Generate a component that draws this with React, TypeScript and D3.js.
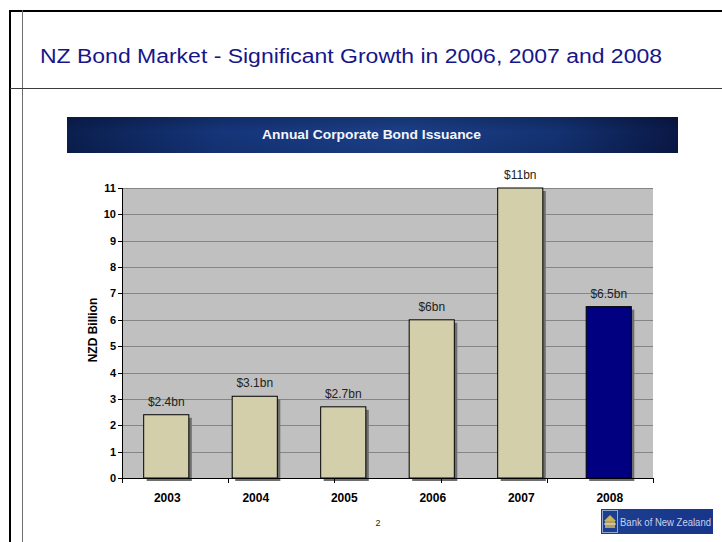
import React from "react";
import * as d3 from "d3";

// Annual corporate bond issuance, NZD billion
const years = ["2003", "2004", "2005", "2006", "2007", "2008"];
const issuance = [2.4, 3.1, 2.7, 6, 11, 6.5];
const valueLabels = ["$2.4bn", "$3.1bn", "$2.7bn", "$6bn", "$11bn", "$6.5bn"];
const yTicks = [0, 1, 2, 3, 4, 5, 6, 7, 8, 9, 10, 11];
const highlightYear = "2008";

const W = 722;
const H = 542;
const plot = { left: 122, right: 653, top: 188, bottom: 478 };
const FONT = "'Liberation Sans', Arial, Helvetica, sans-serif";

export default function App() {
  const y = d3.scaleLinear().domain([0, 11]).range([plot.bottom, plot.top]);
  const x = d3
    .scaleBand<string>()
    .domain(years)
    .range([plot.left, plot.right])
    .paddingInner(0.49)
    .paddingOuter(0.245);
  // category tick marks are spread evenly along the axis
  const xTickPos = d3.scaleLinear().domain([0, years.length - 1]).range([plot.left, plot.right]);

  return (
    <svg
      width={W}
      height={H}
      viewBox={`0 0 ${W} ${H}`}
      style={{ position: "absolute", left: 0, top: 0, background: "#fff" }}
    >
      <defs>
        <linearGradient id="bannerGrad" x1="0" x2="1" y1="0" y2="0">
          <stop offset="0%" stopColor="#0b1f4f" />
          <stop offset="25%" stopColor="#15357a" />
          <stop offset="55%" stopColor="#1b3f88" />
          <stop offset="80%" stopColor="#133272" />
          <stop offset="100%" stopColor="#0a1846" />
        </linearGradient>
        <linearGradient id="bannerShade" x1="0" x2="0" y1="0" y2="1">
          <stop offset="0%" stopColor="#000" stopOpacity={0.18} />
          <stop offset="40%" stopColor="#000" stopOpacity={0} />
          <stop offset="100%" stopColor="#000" stopOpacity={0.08} />
        </linearGradient>
        <linearGradient id="logoGrad" x1="0" x2="1" y1="0" y2="0">
          <stop offset="0%" stopColor="#1d3f8f" />
          <stop offset="100%" stopColor="#17358a" />
        </linearGradient>
      </defs>

      {/* slide frame */}
      <line x1={10} x2={10} y1={10} y2={H} stroke="#000" strokeWidth={2} />
      <line x1={9} x2={W} y1={11} y2={11} stroke="#000" strokeWidth={2} />
      <line x1={22.5} x2={22.5} y1={10} y2={H} stroke="#6e6e6e" strokeWidth={1} />
      <line x1={10} x2={W} y1={88.5} y2={88.5} stroke="#3a3a3a" strokeWidth={1} />

      {/* slide title */}
      <text
        x={40}
        y={63}
        fontFamily={FONT}
        fontSize={20}
        fill="#16168a"
        textLength={622}
        lengthAdjust="spacingAndGlyphs"
      >
        NZ Bond Market - Significant Growth in 2006, 2007 and 2008
      </text>

      {/* chart banner */}
      <rect x={67} y={117} width={611} height={36} fill="url(#bannerGrad)" />
      <rect x={67} y={117} width={611} height={36} fill="url(#bannerShade)" />
      <text
        x={262}
        y={139}
        fontFamily={FONT}
        fontSize={12.5}
        fontWeight="bold"
        fill="#f4f6fb"
        textLength={219}
        lengthAdjust="spacingAndGlyphs"
      >
        Annual Corporate Bond Issuance
      </text>

      {/* plot area and gridlines */}
      <rect
        x={plot.left}
        y={plot.top}
        width={plot.right - plot.left}
        height={plot.bottom - plot.top}
        fill="#c0c0c0"
      />
      {yTicks
        .filter((t) => t > 0)
        .map((t) => (
          <line
            key={`g${t}`}
            x1={plot.left}
            x2={plot.right}
            y1={Math.round(y(t)) + 0.5}
            y2={Math.round(y(t)) + 0.5}
            stroke="#858585"
            strokeWidth={1}
          />
        ))}

      {/* bars with drop shadows */}
      {years.map((yr, i) => {
        const bx = x(yr)!;
        const by = y(issuance[i]);
        const bw = x.bandwidth();
        const bh = plot.bottom - by;
        return (
          <g key={yr}>
            <rect x={bx + 3} y={by + 3} width={bw} height={bh} fill="#6f6f6f" />
            <rect
              x={bx}
              y={by}
              width={bw}
              height={bh}
              fill={yr === highlightYear ? "#000080" : "#d3cfab"}
              stroke="#000"
              strokeWidth={1}
            />
          </g>
        );
      })}

      {/* value labels */}
      {years.map((yr, i) => (
        <text
          key={`v${yr}`}
          x={x(yr)! + x.bandwidth() / 2}
          y={y(issuance[i]) - 9}
          textAnchor="middle"
          fontFamily={FONT}
          fontSize={12}
          fill="#222"
        >
          {valueLabels[i]}
        </text>
      ))}

      {/* y axis */}
      <line x1={plot.left + 0.5} x2={plot.left + 0.5} y1={plot.top} y2={plot.bottom} stroke="#000" />
      {yTicks.map((t) => (
        <g key={`y${t}`}>
          <line
            x1={plot.left - 4}
            x2={plot.left}
            y1={Math.round(y(t)) + 0.5}
            y2={Math.round(y(t)) + 0.5}
            stroke="#000"
          />
          <text
            x={plot.left - 6}
            y={y(t) + 4}
            textAnchor="end"
            fontFamily={FONT}
            fontSize={11}
            fontWeight="bold"
            fill="#000"
          >
            {t}
          </text>
        </g>
      ))}
      <text
        transform={`translate(97,330) rotate(-90)`}
        textAnchor="middle"
        fontFamily={FONT}
        fontSize={12}
        fontWeight="bold"
        fill="#000"
      >
        NZD Billion
      </text>

      {/* x axis */}
      <line x1={plot.left} x2={plot.right} y1={plot.bottom + 0.5} y2={plot.bottom + 0.5} stroke="#000" />
      {years.map((yr, i) => (
        <line
          key={`xt${yr}`}
          x1={Math.round(xTickPos(i)) + 0.5}
          x2={Math.round(xTickPos(i)) + 0.5}
          y1={plot.bottom}
          y2={plot.bottom + 5}
          stroke="#000"
        />
      ))}
      {years.map((yr) => (
        <text
          key={`xl${yr}`}
          x={x(yr)! + x.bandwidth() / 2 + 1}
          y={502}
          textAnchor="middle"
          fontFamily={FONT}
          fontSize={12}
          fontWeight="bold"
          fill="#000"
        >
          {yr}
        </text>
      ))}

      {/* page number */}
      <text x={378} y={526} textAnchor="middle" fontFamily={FONT} fontSize={9} fill="#222">
        2
      </text>

      {/* bank logo */}
      <g>
        <rect x={601} y={509} width={112} height={25} fill="url(#logoGrad)" />
        <rect x={602.5} y={510.5} width={15} height={22} fill="none" stroke="#8fa3d0" strokeWidth={1} />
        <path d="M604,521 L610,515 L616,521 Z" fill="#c9b25a" />
        <rect x={605} y={521} width={10} height={7} fill="#c9b25a" opacity={0.85} />
        <line x1={604} x2={616} y1={524} y2={524} stroke="#e6e6f0" strokeWidth={1} />
        <text
          x={620}
          y={526}
          fontFamily={FONT}
          fontSize={10}
          fill="#c7d2ee"
          textLength={91}
          lengthAdjust="spacingAndGlyphs"
        >
          Bank of New Zealand
        </text>
      </g>
    </svg>
  );
}
